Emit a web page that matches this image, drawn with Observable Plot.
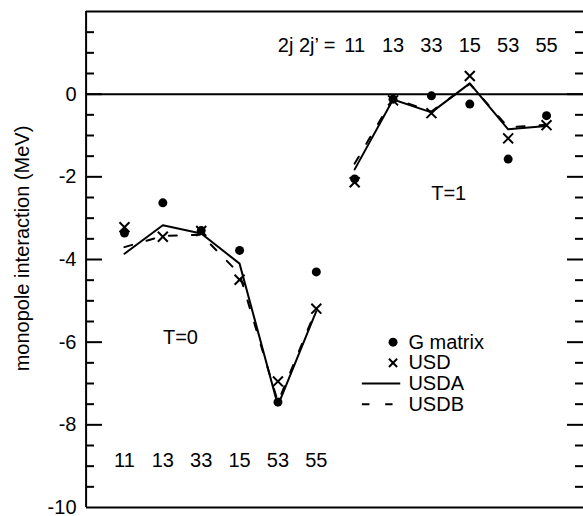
<!DOCTYPE html>
<html>
<head>
<meta charset="utf-8">
<script src="https://cdn.jsdelivr.net/npm/d3@7"></script>
<script src="https://cdn.jsdelivr.net/npm/@observablehq/plot@0.6"></script>
<style>
  html, body { margin: 0; padding: 0; background: #fff; overflow: hidden; }
</style>
</head>
<body>
<div id="chart"></div>
<script>
// Orbit pairs 2j 2j' (sd shell), listed for T=0 and then T=1
const pairs = ["11", "13", "33", "15", "53", "55"];
const isospin = [0, 1];

// Monopole interaction (MeV), T=0
const gMatrixT0 = [-3.36, -2.63, -3.30, -3.78, -7.45, -4.30];
const usdT0     = [-3.22, -3.45, -3.31, -4.49, -6.95, -5.19];
const usdaT0    = [-3.86, -3.17, -3.37, -4.10, -7.53, -5.25];
const usdbT0    = [-3.70, -3.43, -3.40, -4.35, -7.45, -5.20];

// Monopole interaction (MeV), T=1
const gMatrixT1 = [-2.05, -0.12, -0.04, -0.24, -1.57, -0.52];
const usdT1     = [-2.13, -0.15, -0.46, 0.44, -1.07, -0.75];
const usdaT1    = [-1.82, -0.13, -0.44, 0.26, -0.85, -0.77];
const usdbT1    = [-1.68, -0.10, -0.42, 0.25, -0.80, -0.74];

const yTickLabels = [-10, -8, -6, -4, -2, 0];
const legendLabels = ["G matrix", "USD", "USDA", "USDB"];
const yLabel = "monopole interaction (MeV)";
const pairHeader = "2j 2j\u2019 =";

// One row per (T, pair); idx runs 0..11 along the horizontal axis
const series = {
  0: {g: gMatrixT0, usd: usdT0, usda: usdaT0, usdb: usdbT0},
  1: {g: gMatrixT1, usd: usdT1, usda: usdaT1, usdb: usdbT1}
};
const rows = [];
isospin.forEach((T, t) => {
  pairs.forEach((p, k) => {
    rows.push({
      idx: t * pairs.length + k, T, pair: p,
      g: series[T].g[k], usd: series[T].usd[k],
      usda: series[T].usda[k], usdb: series[T].usdb[k]
    });
  });
});

const W = 583, H = 516, ML = 86, MT = 11, MB = 9;
const plotW = W - ML;
const FS = 20;
const font = "'Liberation Sans', Arial, Helvetica, sans-serif";

const minorTicks = d3.range(-9.5, 2, 0.5).filter(v => Math.abs(v % 2) > 1e-9);
const majorTicks = d3.range(-8, 1, 2);

// Legend layout (in axis units)
const legX = 7.0, legY0 = -6.0, legStep = 0.5;
const legY = legendLabels.map((_, i) => legY0 - i * legStep);

const chart = Plot.plot({
  width: W,
  height: H,
  marginLeft: ML,
  marginRight: 0,
  marginTop: MT,
  marginBottom: MB,
  style: {fontFamily: font, fontSize: FS + "px", color: "black", background: "white", overflow: "visible"},
  x: {domain: [-1, 12], range: [85.6, 584.4], axis: null},
  y: {domain: [-10, 2], axis: null},
  marks: [
    // frame and zero line
    Plot.ruleY([-10, 2], {stroke: "black", strokeWidth: 2}),
    Plot.ruleX([-1], {stroke: "black", strokeWidth: 2, y1: -10, y2: 2}),
    Plot.ruleY([0], {stroke: "black", strokeWidth: 2}),

    // inward ticks, left and right
    Plot.tickY(minorTicks, {y: d => d, stroke: "black", strokeWidth: 2, insetRight: plotW - 8}),
    Plot.tickY(majorTicks, {y: d => d, stroke: "black", strokeWidth: 2, insetRight: plotW - 16}),
    Plot.tickY(minorTicks, {y: d => d, stroke: "black", strokeWidth: 2, insetLeft: plotW - 8}),
    Plot.tickY(majorTicks, {y: d => d, stroke: "black", strokeWidth: 2, insetLeft: plotW - 16}),

    // tick labels and axis title
    Plot.text(yTickLabels, {y: d => d, text: d => String(d), frameAnchor: "left", textAnchor: "end", dx: -10, fontSize: FS}),
    Plot.text([yLabel], {frameAnchor: "left", textAnchor: "middle", rotate: -90, dx: -64, dy: -11, fontSize: FS}),

    // orbit-pair labels
    Plot.text(rows.filter(d => d.T === 0), {x: "idx", y: -8.87, text: "pair", fontSize: FS}),
    Plot.text(rows.filter(d => d.T === 1), {x: "idx", y: 1.18, text: "pair", fontSize: FS}),
    Plot.text([pairHeader], {x: 5.5, y: 1.18, textAnchor: "end", fontSize: FS}),

    // isospin annotations
    Plot.text(["T=0"], {x: 1.46, y: -5.89, fontSize: FS}),
    Plot.text(["T=1"], {x: 8.45, y: -2.4, fontSize: FS}),

    // USDA (solid) and USDB (dashed)
    Plot.line(rows, {x: "idx", y: "usdb", z: "T", stroke: "black", strokeWidth: 2, strokeDasharray: "8,15"}),
    Plot.line(rows, {x: "idx", y: "usda", z: "T", stroke: "black", strokeWidth: 2}),

    // G matrix (dots) and USD (crosses)
    Plot.dot(rows, {x: "idx", y: "g", r: 4.5, fill: "black", stroke: "none"}),
    Plot.dot(rows, {x: "idx", y: "usd", symbol: "times", r: 4.6, stroke: "black", strokeWidth: 2}),

    // legend
    Plot.dot([legendLabels[0]], {x: legX, y: legY[0], r: 4.5, fill: "black", stroke: "none"}),
    Plot.dot([legendLabels[1]], {x: legX, y: legY[1], symbol: "times", r: 3.8, stroke: "black", strokeWidth: 2}),
    Plot.ruleY([legY[2]], {x1: legX - 0.8, x2: legX + 0.2, stroke: "black", strokeWidth: 2}),
    Plot.ruleY([legY[3]], {x1: legX - 0.8, x2: legX, stroke: "black", strokeWidth: 2, strokeDasharray: "7.6,15.7"}),
    Plot.text(legendLabels, {x: legX + 0.4, y: (d, i) => legY[i], text: d => d, textAnchor: "start", fontSize: FS})
  ]
});

document.getElementById("chart").appendChild(chart);
</script>
</body>
</html>
